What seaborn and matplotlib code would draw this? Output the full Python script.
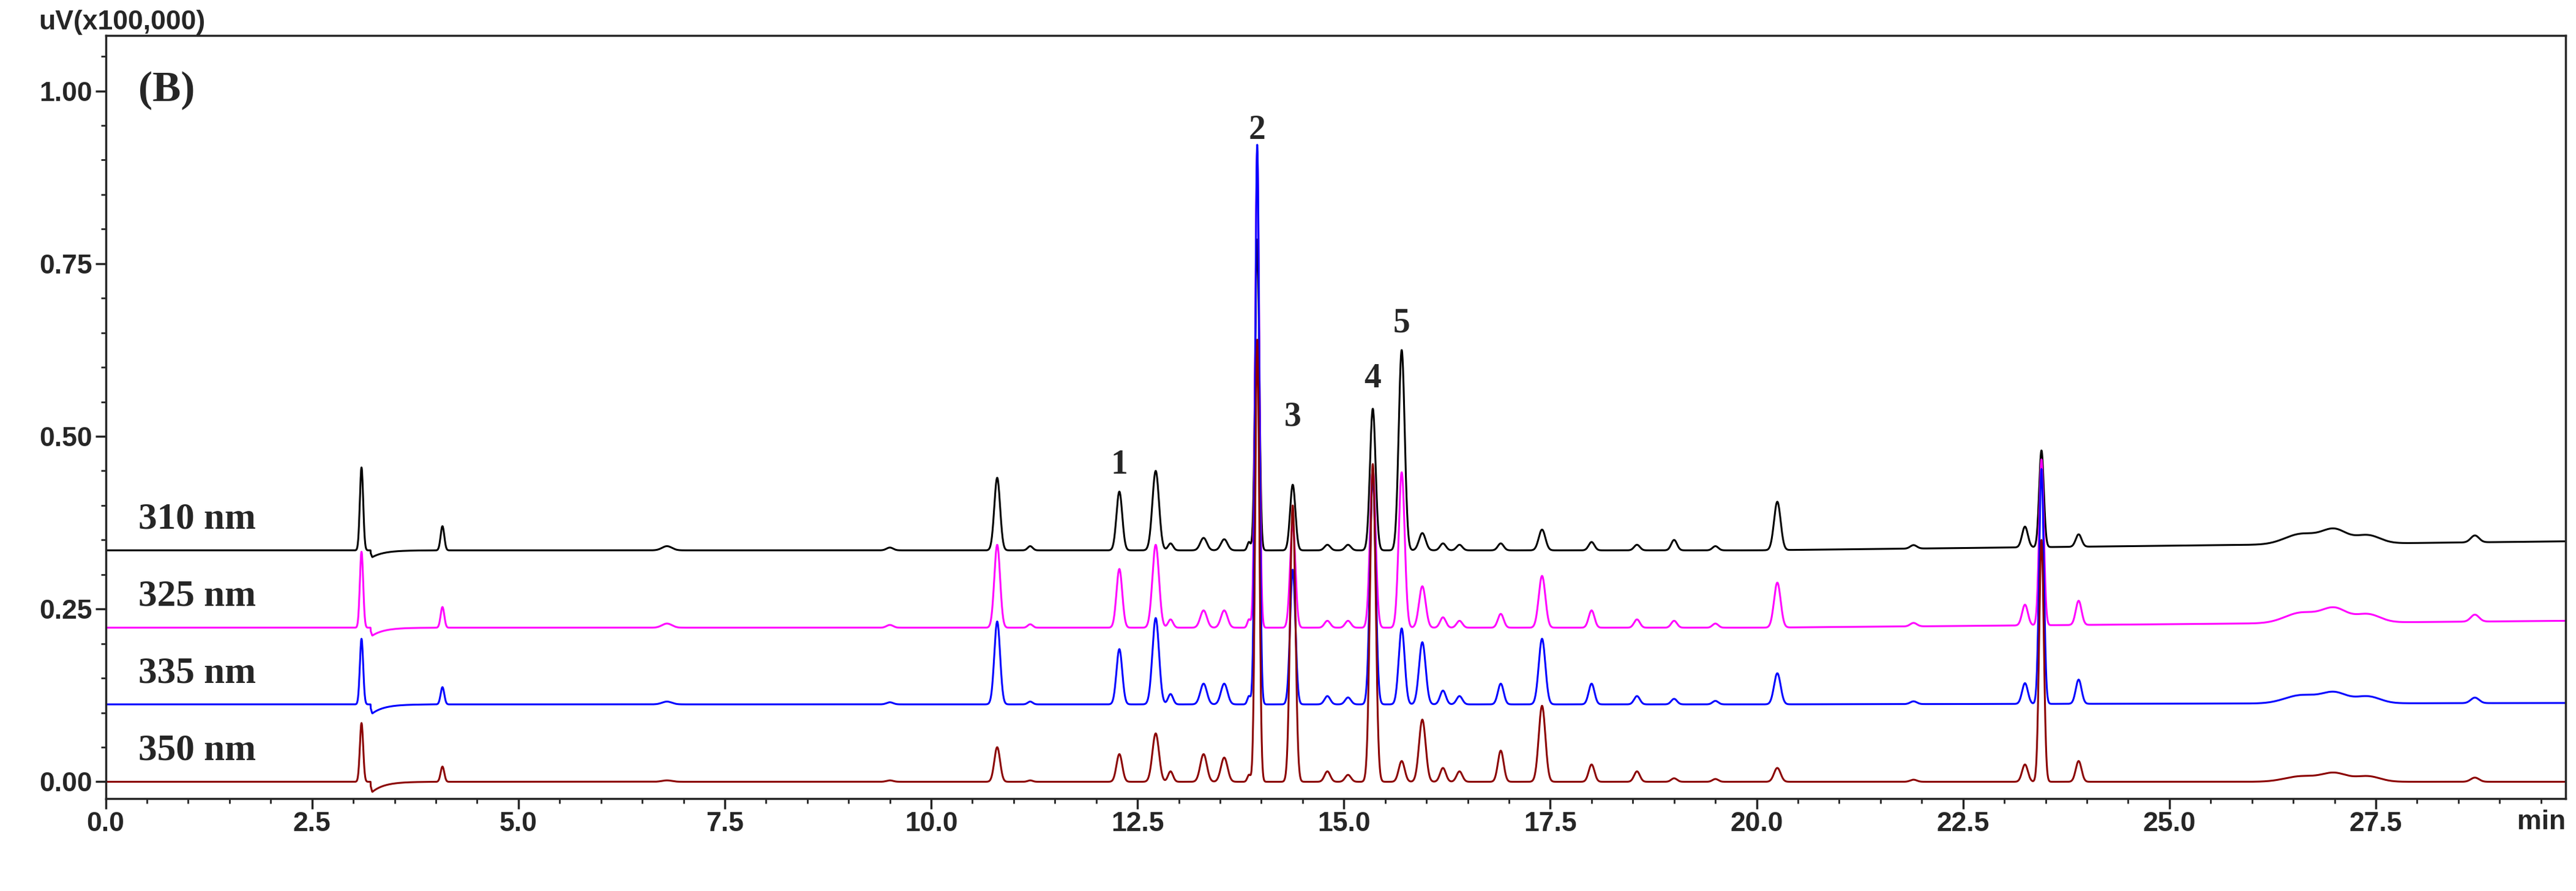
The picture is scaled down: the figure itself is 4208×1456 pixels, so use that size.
import numpy as np
import pandas as pd
import matplotlib
matplotlib.use("Agg")
import matplotlib.pyplot as plt
import seaborn as sns
from matplotlib.ticker import MultipleLocator

sns.set_theme(style="ticks")
plt.rcParams['font.family'] = ['Liberation Sans', 'DejaVu Sans']

channels = ["310 nm", "325 nm", "335 nm", "350 nm"]
colors = ["#000000", "#ff00ff", "#0000ff", "#8b0000"]
baselines = [0.335, 0.223, 0.112, 0.0]
end_baselines = [0.348, 0.233, 0.114, 0.0]

# retention times (min) and peak widths (sigma, min)
peak_times = [3.10, 4.08, 6.80, 9.50, 10.80, 11.20, 12.28, 12.72, 12.90, 13.30, 13.55, 13.85,
              13.95, 14.38, 14.80, 15.05, 15.35, 15.70, 15.95, 16.20, 16.40, 16.90, 17.40,
              18.00, 18.55, 19.00, 19.50, 20.25, 21.90, 23.25, 23.45, 23.90, 26.60, 27.00, 27.40, 28.70]
peak_sigma = [0.020, 0.022, 0.06, 0.04, 0.035, 0.03, 0.035, 0.040, 0.03, 0.040, 0.040, 0.02,
              0.025, 0.032, 0.035, 0.035, 0.034, 0.036, 0.040, 0.035, 0.035, 0.035, 0.040,
              0.035, 0.035, 0.035, 0.035, 0.040, 0.04, 0.035, 0.028, 0.035, 0.2, 0.15, 0.15, 0.05]
# peak heights above baseline per channel
heights = {
    "310 nm": [0.120, 0.035, 0.006, 0.004, 0.105, 0.006, 0.085, 0.115, 0.010, 0.018, 0.016, 0.012,
               0.450, 0.095, 0.008, 0.008, 0.205, 0.290, 0.025, 0.010, 0.008, 0.010, 0.030,
               0.012, 0.008, 0.015, 0.006, 0.070, 0.005, 0.030, 0.140, 0.018, 0.015, 0.020, 0.012, 0.010],
    "325 nm": [0.110, 0.030, 0.006, 0.004, 0.120, 0.005, 0.085, 0.120, 0.012, 0.025, 0.025, 0.012,
               0.690, 0.150, 0.010, 0.010, 0.230, 0.225, 0.060, 0.015, 0.010, 0.020, 0.075,
               0.025, 0.012, 0.010, 0.006, 0.065, 0.005, 0.030, 0.240, 0.035, 0.015, 0.020, 0.012, 0.010],
    "335 nm": [0.095, 0.025, 0.004, 0.003, 0.120, 0.004, 0.080, 0.125, 0.015, 0.030, 0.030, 0.012,
               0.810, 0.195, 0.012, 0.010, 0.330, 0.110, 0.090, 0.020, 0.012, 0.030, 0.095,
               0.030, 0.012, 0.008, 0.005, 0.045, 0.004, 0.030, 0.340, 0.035, 0.012, 0.015, 0.010, 0.008],
    "350 nm": [0.085, 0.022, 0.002, 0.002, 0.050, 0.002, 0.040, 0.070, 0.015, 0.040, 0.035, 0.010,
               0.640, 0.400, 0.015, 0.010, 0.460, 0.030, 0.090, 0.020, 0.015, 0.045, 0.110,
               0.025, 0.015, 0.005, 0.004, 0.020, 0.003, 0.025, 0.350, 0.030, 0.008, 0.012, 0.008, 0.006],
}
dip_time = 3.20
dip_depth = [0.012, 0.014, 0.016, 0.018]

peak_labels = ["1", "2", "3", "4", "5"]
label_times = [12.28, 13.95, 14.38, 15.35, 15.70]
label_y = [0.435, 0.92, 0.505, 0.56, 0.64]

t = np.linspace(0, 29.8, 12000)
rows = []
for i, ch in enumerate(channels):
    base = np.interp(t, [0, 20, 29.8], [baselines[i], baselines[i], end_baselines[i]])
    y = base.copy()
    for tp, s, h in zip(peak_times, peak_sigma, heights[ch]):
        y += h * np.exp(-0.5 * ((t - tp) / s) ** 2)
    y -= dip_depth[i] * np.exp(-(t - dip_time) / 0.15) * (t > dip_time + 0.01) * np.clip((t - dip_time) / 0.03, 0, 1)
    rows.append(pd.DataFrame({"t": t, "y": y, "ch": ch}))
df = pd.concat(rows)

fig = plt.figure(figsize=(42.08, 14.56), dpi=100)
ax = fig.add_axes([0.041, 0.104, 0.955, 0.856])
sns.lineplot(data=df, x="t", y="y", hue="ch", palette=dict(zip(channels, colors)),
             ax=ax, legend=False, linewidth=2.2, estimator=None, sort=False)

ax.set_xlim(0, 29.8)
ax.set_ylim(-0.024, 1.08)
ax.xaxis.set_major_locator(MultipleLocator(2.5))
ax.xaxis.set_minor_locator(MultipleLocator(0.5))
ax.yaxis.set_major_locator(MultipleLocator(0.25))
ax.yaxis.set_minor_locator(MultipleLocator(0.05))
ax.xaxis.set_major_formatter(matplotlib.ticker.FormatStrFormatter("%.1f"))
ax.yaxis.set_major_formatter(matplotlib.ticker.FormatStrFormatter("%.2f"))
ax.tick_params(axis="both", which="major", labelsize=32, length=12, width=2.5, direction="out")
ax.tick_params(axis="both", which="minor", length=6, width=2, direction="out")
for lbl in ax.get_xticklabels() + ax.get_yticklabels():
    lbl.set_fontweight("bold")
for sp in ax.spines.values():
    sp.set_linewidth(2.5)
ax.set_xlabel("")
ax.set_ylabel("")
fig.text(0.015, 0.975, "uV(x100,000)", fontsize=32, fontweight="bold", va="center")
ax.text(1.0, -0.015, "min", transform=ax.transAxes, fontsize=32, fontweight="bold", ha="right", va="top")
ax.text(0.4, 1.0, "(B)", fontsize=50, fontweight="bold", family="Liberation Serif", va="center")
for ch, b in zip(channels, baselines):
    ax.text(0.4, b + 0.045, ch, fontsize=44, fontweight="bold", family="Liberation Serif", va="center")
for lab, lt, ly in zip(peak_labels, label_times, label_y):
    ax.text(lt, ly, lab, fontsize=40, fontweight="bold", family="Liberation Serif", ha="center", va="bottom")

fig.savefig("out.png", dpi=100)
